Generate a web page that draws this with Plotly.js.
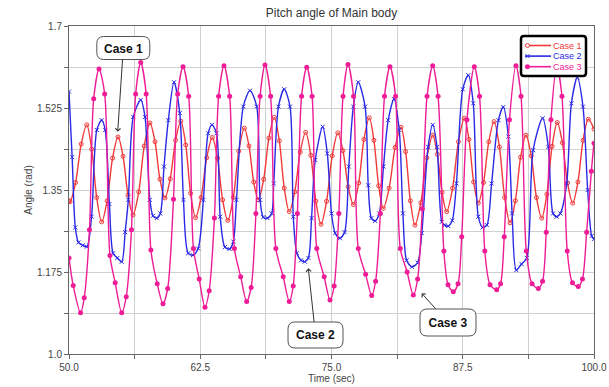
<!DOCTYPE html>
<html>
<head>
<meta charset="utf-8">
<script src="https://cdn.plot.ly/plotly-3.0.1.min.js"></script>
<style>html,body{margin:0;padding:0;background:#fff;}#chart{width:609px;height:387px;}</style>
</head>
<body>
<div id="chart"></div>
<script>
// ---- Case 1 (red) ----
const time1 = [50.0,50.1,50.63,51.16,51.69,52.16,52.64,53.11,53.63,54.15,54.67,55.15,55.62,56.1,56.64,57.17,57.71,58.19,58.66,59.14,59.64,60.15,60.65,61.12,61.58,62.05,62.58,63.12,63.65,64.14,64.63,65.12,65.65,66.17,66.7,67.14,67.59,68.03,68.54,69.04,69.55,70.03,70.5,70.98,71.5,72.02,72.54,73.03,73.51,74.0,74.53,75.07,75.6,76.09,76.59,77.08,77.59,78.09,78.6,79.04,79.49,79.93,80.49,81.06,81.62,82.06,82.51,82.95,83.51,84.08,84.64,85.08,85.53,85.97,86.53,87.09,87.65,88.09,88.54,88.98,89.48,89.98,90.48,90.99,91.49,92.0,92.51,93.01,93.52,94.02,94.52,95.02,95.51,96.01,96.5,96.99,97.48,97.97,98.47,98.96,99.46,100.0];
const case1 = [1.327,1.325,1.366,1.448,1.489,1.437,1.334,1.282,1.327,1.418,1.463,1.422,1.339,1.297,1.346,1.444,1.493,1.453,1.373,1.333,1.374,1.456,1.497,1.446,1.343,1.291,1.334,1.419,1.462,1.418,1.329,1.285,1.334,1.433,1.482,1.444,1.367,1.329,1.373,1.461,1.505,1.455,1.354,1.304,1.346,1.431,1.473,1.424,1.326,1.277,1.326,1.423,1.472,1.434,1.357,1.319,1.365,1.458,1.504,1.456,1.359,1.311,1.354,1.441,1.484,1.432,1.327,1.275,1.323,1.419,1.467,1.426,1.345,1.304,1.354,1.453,1.503,1.458,1.367,1.322,1.366,1.453,1.496,1.442,1.334,1.280,1.327,1.420,1.467,1.423,1.334,1.290,1.341,1.443,1.494,1.451,1.365,1.322,1.367,1.456,1.501,1.480];

// ---- Case 2 (blue) ----
const time2 = [50.0,50.3,50.6,50.9,51.3,51.7,52.15,52.65,53.11,53.45,53.85,54.2,54.6,55.02,55.35,55.65,56.12,56.83,57.24,57.7,58.0,58.35,58.7,59.05,59.46,60.0,60.55,60.9,61.35,61.81,62.3,62.8,63.25,63.62,64.05,64.4,64.85,65.3,65.65,65.95,66.6,67.24,67.88,68.2,68.5,68.9,69.3,69.5,69.95,70.5,71.05,71.36,71.7,72.1,72.45,72.8,73.1,73.45,74.16,74.6,75.0,75.35,75.8,76.25,76.65,77.08,77.55,78.2,78.5,78.8,79.15,79.55,79.95,80.4,80.95,81.45,81.8,82.15,82.65,83.2,83.6,84.2,84.64,85.05,85.5,85.75,86.12,86.5,86.9,87.5,88.03,88.5,88.98,89.4,89.8,90.25,90.9,91.36,91.85,92.2,92.6,93.1,93.6,94.2,95.11,95.65,96.1,96.45,96.8,97.4,97.85,98.41,98.95,99.4,99.78,100.0];
const case2 = [1.560,1.420,1.270,1.238,1.232,1.229,1.293,1.478,1.499,1.478,1.320,1.215,1.205,1.197,1.260,1.329,1.506,1.542,1.506,1.329,1.295,1.290,1.300,1.400,1.499,1.580,1.514,1.329,1.215,1.211,1.225,1.329,1.471,1.489,1.471,1.293,1.228,1.224,1.240,1.329,1.528,1.562,1.528,1.329,1.292,1.290,1.300,1.364,1.528,1.565,1.528,1.293,1.215,1.200,1.197,1.205,1.290,1.414,1.485,1.428,1.300,1.258,1.247,1.260,1.400,1.528,1.580,1.528,1.360,1.290,1.284,1.300,1.400,1.499,1.544,1.478,1.300,1.200,1.186,1.195,1.258,1.442,1.489,1.442,1.282,1.275,1.273,1.285,1.364,1.565,1.595,1.535,1.293,1.270,1.275,1.364,1.499,1.527,1.464,1.300,1.179,1.192,1.205,1.435,1.503,1.442,1.300,1.293,1.300,1.364,1.535,1.590,1.528,1.350,1.252,1.245];

// ---- Case 3 (magenta) ----
const time3 = [50.0,50.4,51.1,51.45,51.95,52.35,52.86,53.4,53.9,54.4,55.02,55.45,55.95,56.35,56.83,57.35,57.8,58.4,58.95,59.4,59.95,60.35,60.86,61.4,61.85,62.4,62.95,63.35,63.85,64.25,64.76,65.3,65.75,66.35,66.92,67.35,67.8,68.2,68.67,69.2,69.7,70.4,70.98,71.35,71.75,72.15,72.64,73.15,73.6,74.3,74.86,75.25,75.7,76.1,76.57,77.1,77.55,78.25,78.83,79.2,79.65,80.05,80.57,81.1,81.55,82.2,82.79,83.2,83.65,84.1,84.64,85.15,85.7,86.1,86.6,87.05,87.4,87.9,88.6,89.1,89.6,90.1,90.73,91.1,91.45,91.95,92.57,93.05,93.55,94.1,94.7,95.1,95.45,95.9,96.45,96.95,97.45,97.95,98.5,98.9,99.3,99.75,100.0];
const case3 = [1.205,1.146,1.088,1.120,1.265,1.545,1.608,1.555,1.210,1.152,1.088,1.122,1.265,1.555,1.622,1.555,1.222,1.150,1.107,1.140,1.330,1.555,1.613,1.550,1.225,1.160,1.100,1.135,1.290,1.550,1.615,1.550,1.225,1.165,1.112,1.142,1.300,1.550,1.617,1.550,1.225,1.165,1.112,1.145,1.300,1.550,1.612,1.550,1.225,1.165,1.115,1.145,1.300,1.550,1.618,1.550,1.225,1.170,1.125,1.155,1.300,1.550,1.613,1.550,1.225,1.175,1.126,1.160,1.310,1.550,1.615,1.550,1.220,1.148,1.133,1.150,1.250,1.500,1.613,1.550,1.220,1.148,1.137,1.150,1.250,1.500,1.615,1.550,1.220,1.150,1.140,1.155,1.260,1.500,1.615,1.550,1.220,1.152,1.144,1.160,1.260,1.390,1.450];

// ---- ticks ----
const xTickVals = [50, 62.5, 75, 87.5, 100];
const xTickText = ['50.0', '62.5', '75.0', '87.5', '100.0'];
const xMinorVals = [56.25, 68.75, 81.25, 93.75];
const yTickVals = [1.0, 1.175, 1.35, 1.525, 1.7];
const yTickText = ['1.0', '1.175', '1.35', '1.525', '1.7'];
const yMinorVals = [1.0875, 1.2625, 1.4375, 1.6125];

const seriesNames = ['Case 1', 'Case 2', 'Case 3'];
const colors = ['#f03a3a', '#2a2ae6', '#ee1c96'];

// layout geometry (pixels)
const W = 609, H = 387, L = 69, R = 15, T = 26, B = 33;
const PW = W - L - R, PH = H - T - B;
const X = p => (p - L) / PW;          // pixel -> paper x
const Y = p => (H - B - p) / PH;      // pixel -> paper y
const dataToPx = (t, v) => [L + (t - 50) / 50 * PW, T + (1.7 - v) / 0.7 * PH];

function roundRect(cx, cy, w, h, r) {
  const x0 = cx - w / 2, x1 = cx + w / 2, y0 = cy - h / 2, y1 = cy + h / 2;
  return `M${X(x0 + r)},${Y(y0)} L${X(x1 - r)},${Y(y0)} Q${X(x1)},${Y(y0)} ${X(x1)},${Y(y0 + r)} ` +
         `L${X(x1)},${Y(y1 - r)} Q${X(x1)},${Y(y1)} ${X(x1 - r)},${Y(y1)} L${X(x0 + r)},${Y(y1)} ` +
         `Q${X(x0)},${Y(y1)} ${X(x0)},${Y(y1 - r)} L${X(x0)},${Y(y0 + r)} Q${X(x0)},${Y(y0)} ${X(x0 + r)},${Y(y0)} Z`;
}

// callouts: label, tip (data), box centre/size (pixels)
const callouts = [
  {text: 'Case 1', tip: [54.64, 1.4744], box: [123.3, 48, 53, 23]},
  {text: 'Case 2', tip: [72.79, 1.183], box: [315.5, 335, 55, 26]},
  {text: 'Case 3', tip: [83.59, 1.1296], box: [448, 322.5, 56, 27]}
];

const FONT = 'Liberation Sans, Arial, sans-serif';

const traces = [
  {x: time1, y: case1, name: seriesNames[0], mode: 'lines+markers', type: 'scatter', showlegend: false,
   line: {color: colors[0], width: 1.4, shape: 'spline', smoothing: 0.9},
   marker: {symbol: 'circle-open', size: 4, color: colors[0], line: {width: 1}}},
  {x: time2, y: case2, name: seriesNames[1], mode: 'lines+markers', type: 'scatter', showlegend: false,
   line: {color: colors[1], width: 1.4, shape: 'spline', smoothing: 0.8},
   marker: {symbol: 'x-thin', size: 4, color: colors[1], line: {width: 1, color: colors[1]}}},
  {x: time3, y: case3, name: seriesNames[2], mode: 'lines+markers', type: 'scatter', showlegend: false,
   line: {color: colors[2], width: 1.4, shape: 'spline', smoothing: 0.8},
   marker: {symbol: 'circle', size: 5, color: colors[2]}}
];

const shapes = callouts.map(c => ({
  type: 'path', xref: 'paper', yref: 'paper', layer: 'above',
  path: roundRect(c.box[0], c.box[1], c.box[2], c.box[3], 7),
  fillcolor: '#ffffff', line: {color: '#555', width: 1}
}));

const annotations = callouts.map(c => {
  const [tx, ty] = dataToPx(c.tip[0], c.tip[1]);
  return {
    x: c.tip[0], y: c.tip[1], xref: 'x', yref: 'y',
    text: '<b>' + c.text + '</b>', font: {family: FONT, size: 12, color: '#111'},
    showarrow: true, arrowhead: 4, arrowsize: 1, arrowwidth: 1, arrowcolor: '#333',
    ax: c.box[0] - tx, ay: c.box[1] - ty,
    width: c.box[2], height: c.box[3], borderpad: 0, borderwidth: 0,
    bgcolor: 'rgba(0,0,0,0)'
  };
});

// ---- legend box (drawn as layout decoration) ----
const leg = {cx: 553.5, cy: 56, w: 65, h: 40, rowY0: 45.5, rowDy: 10.6, lineX0: 525, lineX1: 551, markX: 527.5, textX: 551.5};
shapes.push({type: 'path', xref: 'paper', yref: 'paper', layer: 'above',
  path: roundRect(leg.cx, leg.cy, leg.w, leg.h, 3), fillcolor: '#fff', line: {color: '#000', width: 2.5}});
seriesNames.forEach((name, i) => {
  const yy = leg.rowY0 + i * leg.rowDy;
  shapes.push({type: 'line', xref: 'paper', yref: 'paper', layer: 'above',
    x0: X(leg.lineX0), x1: X(leg.lineX1), y0: Y(yy), y1: Y(yy), line: {color: colors[i], width: 1.6}});
  if (i === 0) {
    shapes.push({type: 'circle', xref: 'paper', yref: 'paper', layer: 'above', xsizemode: 'pixel', ysizemode: 'pixel',
      xanchor: X(leg.markX), yanchor: Y(yy), x0: -2, x1: 2, y0: -2, y1: 2, fillcolor: '#fff', line: {color: colors[i], width: 1}});
  } else if (i === 1) {
    [[-2, -2, 2, 2], [-2, 2, 2, -2]].forEach(s => shapes.push({type: 'line', xref: 'paper', yref: 'paper', layer: 'above',
      xsizemode: 'pixel', ysizemode: 'pixel', xanchor: X(leg.markX), yanchor: Y(yy),
      x0: s[0], y0: s[1], x1: s[2], y1: s[3], line: {color: colors[i], width: 1}}));
  } else {
    shapes.push({type: 'circle', xref: 'paper', yref: 'paper', layer: 'above', xsizemode: 'pixel', ysizemode: 'pixel',
      xanchor: X(leg.markX), yanchor: Y(yy), x0: -2.3, x1: 2.3, y0: -2.3, y1: 2.3, fillcolor: colors[i], line: {color: colors[i], width: 0.5}});
  }
  annotations.push({xref: 'paper', yref: 'paper', x: X(leg.textX), y: Y(yy), xanchor: 'left', yanchor: 'middle',
    showarrow: false, borderpad: 0, text: name, font: {family: FONT, size: 9, color: colors[i]}});
});

const axisCommon = {
  showline: true, mirror: true, linecolor: '#666', linewidth: 1,
  showgrid: true, gridcolor: '#d0d0d0', gridwidth: 1, zeroline: false,
  ticks: 'outside', ticklen: 4, tickcolor: '#666',
  tickfont: {family: FONT, size: 10, color: '#444'}
};

const layout = {
  width: W, height: H,
  margin: {l: L, r: R, t: T, b: B, pad: 0},
  paper_bgcolor: '#fff', plot_bgcolor: '#fff',
  font: {family: FONT},
  showlegend: false,
  title: {text: 'Pitch angle of Main body', font: {family: FONT, size: 12, color: '#333'},
          xref: 'paper', x: 0.5, xanchor: 'center', yref: 'container', y: 1 - 13 / H, yanchor: 'middle'},
  xaxis: Object.assign({}, axisCommon, {
    range: [50, 100], tickmode: 'array', tickvals: xTickVals, ticktext: xTickText,
    minor: {tickmode: 'array', tickvals: xMinorVals, showgrid: true, gridcolor: '#d0d0d0', ticks: 'outside', ticklen: 4, tickcolor: '#666'},
    title: {text: 'Time (sec)', font: {family: FONT, size: 10, color: '#444'}, standoff: 2}
  }),
  yaxis: Object.assign({}, axisCommon, {
    range: [1.0, 1.7], tickmode: 'array', tickvals: yTickVals, ticktext: yTickText,
    minor: {tickmode: 'array', tickvals: yMinorVals, showgrid: true, gridcolor: '#d0d0d0', ticks: 'outside', ticklen: 4, tickcolor: '#666'},
    title: {text: 'Angle (rad)', font: {family: FONT, size: 10, color: '#444'}, standoff: 2}
  }),
  shapes: shapes,
  annotations: annotations
};

Plotly.newPlot('chart', traces, layout, {staticPlot: true, displayModeBar: false});
</script>
</body>
</html>
